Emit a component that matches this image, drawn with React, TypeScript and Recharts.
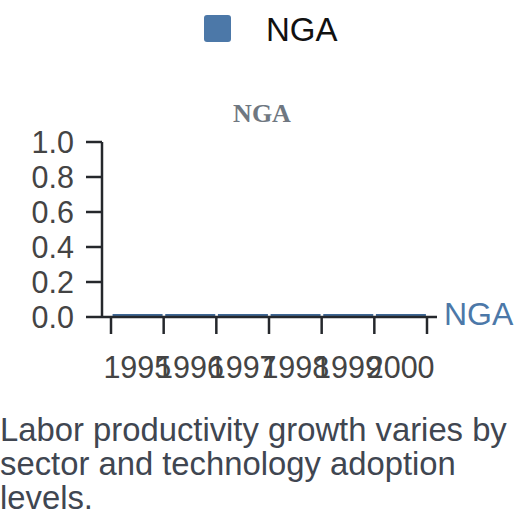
import React from "react";
import { BarChart, Bar, XAxis, YAxis, Legend, LabelList } from "recharts";

const years = ["1995", "1996", "1997", "1998", "1999", "2000"];
const ngaValues = [0, 0, 0, 0, 0, 0];
const yTicks = [0, 0.2, 0.4, 0.6, 0.8, 1.0];
const seriesName = "NGA";
const caption =
    "Labor productivity growth varies by sector and technology adoption levels.";

const data = years.map((year, i) => ({ year, nga: ngaValues[i] }));

const BLUE = "#4c78a8";
const AXIS = "#25282c";
const SANS = "'Liberation Sans', Arial, sans-serif";
const X_TICK_SIZE = 17;
const X_TICK_MARGIN = 22;

// ticks sit on the band edges, labels in the band centres
const XTick = (props: any) => {
    const { x, y, payload, index, visibleTicksCount } = props;
    const half = payload?.offset ?? 26;
    const axisY = y - X_TICK_SIZE - X_TICK_MARGIN;
    const last = index === visibleTicksCount - 1;
    return (
        <g>
            <line x1={x - half} x2={x - half} y1={axisY} y2={axisY + X_TICK_SIZE} stroke={AXIS} strokeWidth={2.5} />
            {last && (
                <line x1={x + half} x2={x + half} y1={axisY} y2={axisY + X_TICK_SIZE} stroke={AXIS} strokeWidth={2.5} />
            )}
            <text x={x} y={y} dy="0.71em" textAnchor="middle" fontSize={30.5} fontFamily={SANS} fill="#444">
                {payload.value}
            </text>
        </g>
    );
};

const EndLabel = (props: any) => {
    const { x, y, width, index } = props;
    if (index !== years.length - 1) return null;
    return (
        <text x={x + width + 18} y={y + 11} fontSize={32} fontFamily={SANS} fill={BLUE}>
            {seriesName}
        </text>
    );
};

const LegendBox = () => (
    <div style={{ position: "relative", height: 50, fontFamily: SANS }}>
        <div
            style={{
                position: "absolute",
                left: 204,
                top: 15,
                width: 27,
                height: 27,
                borderRadius: 3,
                background: BLUE,
            }}
        />
        <span
            style={{
                position: "absolute",
                left: 266,
                top: 13,
                fontSize: 33,
                lineHeight: "33px",
                color: "#111",
            }}
        >
            {seriesName}
        </span>
    </div>
);

const App = () => {
    return (
        <div style={{ position: "absolute", left: 0, top: 0, width: 528, height: 528, background: "#fff" }}>
            <BarChart
                width={528}
                height={528}
                data={data}
                margin={{ top: 92, right: 91, bottom: 0, left: 0 }}
                barCategoryGap="3%"
            >
                <Legend
                    verticalAlign="top"
                    content={() => <LegendBox />}
                    wrapperStyle={{ top: 0, left: 0, width: 528, height: 50 }}
                />
                <XAxis
                    dataKey="year"
                    type="category"
                    interval={0}
                    padding={{ left: 9, right: 10 }}
                    height={211}
                    tickSize={X_TICK_SIZE}
                    tickMargin={X_TICK_MARGIN}
                    tickLine={false}
                    axisLine={{ stroke: AXIS, strokeWidth: 2.5 }}
                    tick={<XTick />}
                />
                <YAxis
                    width={102}
                    domain={[0, 1]}
                    ticks={yTicks}
                    interval={0}
                    tickFormatter={(v: number) => v.toFixed(1)}
                    tickSize={16}
                    tickMargin={12}
                    axisLine={{ stroke: AXIS, strokeWidth: 2.5 }}
                    tickLine={{ stroke: AXIS, strokeWidth: 2.5 }}
                    tick={{ fill: "#444", fontSize: 30.5, fontFamily: SANS }}
                />
                <Bar
                    dataKey="nga"
                    name={seriesName}
                    fill="#3f6794"
                    minPointSize={3}
                    isAnimationActive={false}
                >
                    <LabelList dataKey="nga" content={<EndLabel />} />
                </Bar>
            </BarChart>
            <div
                style={{
                    position: "absolute",
                    left: 0,
                    top: 101,
                    width: 524,
                    textAlign: "center",
                    fontFamily: "'Liberation Serif', 'Times New Roman', serif",
                    fontWeight: "bold",
                    fontSize: 26,
                    lineHeight: "26px",
                    color: "#6f7781",
                }}
            >
                {seriesName}
            </div>
            <div
                style={{
                    position: "absolute",
                    left: 0,
                    top: 413,
                    width: 528,
                    fontFamily: SANS,
                    fontSize: 32.8,
                    lineHeight: "34px",
                    color: "#404651",
                }}
            >
                {caption}
            </div>
        </div>
    );
};

export default App;
